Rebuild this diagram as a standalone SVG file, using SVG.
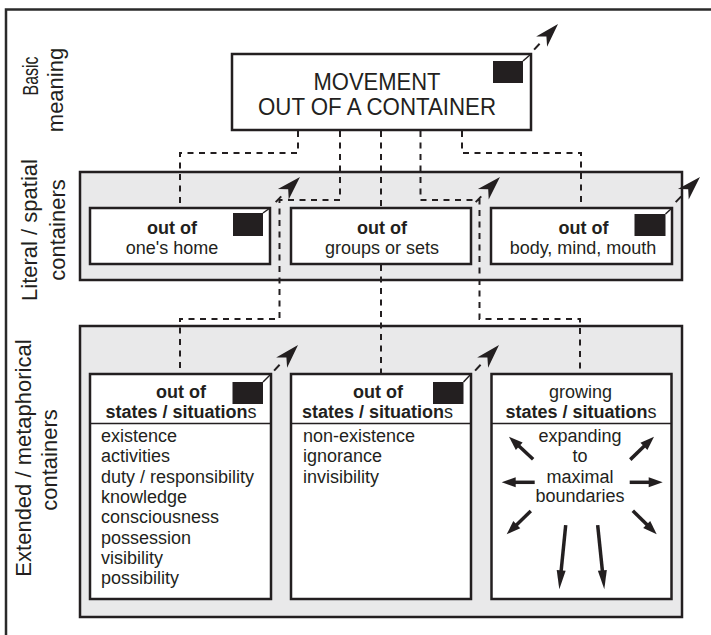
<svg xmlns="http://www.w3.org/2000/svg" xmlns:xlink="http://www.w3.org/1999/xlink" width="711" height="635" viewBox="0 0 711 635">
<style>
text{font-family:"Liberation Sans",Arial,sans-serif;fill:#231f20}
.lbl{font-size:22px;text-anchor:middle}
.t18{font-size:18px}
.mid{text-anchor:middle}
.b{font-weight:bold}
.n{font-weight:normal}
.frame{fill:none;stroke:#2a2a2a;stroke-width:2.5}
.panel{fill:#e9e9ea;stroke:#231f20;stroke-width:2.5}
.box{fill:#ffffff;stroke:#231f20;stroke-width:2.5}
.sq{fill:#231f20}
.diag{stroke:#231f20;stroke-width:1.5;fill:none}
.dash{fill:none;stroke:#231f20;stroke-width:2;stroke-dasharray:6 5.5}
.rad line{stroke:#231f20;stroke-width:3.5}
.rad polygon{fill:#231f20}
</style>
<defs>
<g id="out-arrow">
<line x1="-35" y1="0" x2="-27" y2="0" stroke="#231f20" stroke-width="2"/>
<polygon points="0,0 -24,-7.5 -17,0 -24,7.5" fill="#231f20"/>
</g>
</defs>
<rect class="frame" x="6" y="9.5" width="720" height="640"/>
<g id="row-labels">
<text class="lbl" transform="translate(37.5,76) rotate(-90)" textLength="39" lengthAdjust="spacingAndGlyphs">Basic</text>
<text class="lbl" transform="translate(63,90) rotate(-90)">meaning</text>
<text class="lbl" transform="translate(37,230) rotate(-90)">Literal / spatial</text>
<text class="lbl" transform="translate(65,230) rotate(-90)">containers</text>
<text class="lbl" transform="translate(30.5,458) rotate(-90)">Extended / metaphorical</text>
<text class="lbl" transform="translate(57,460) rotate(-90)">containers</text>
</g>
<rect id="panel-literal" class="panel" x="80" y="172" width="602" height="108"/>
<rect id="panel-extended" class="panel" x="80" y="326" width="602" height="291"/>
<g id="connectors">
<path class="dash" d="M298,131 V153 H180 V207"/>
<path class="dash" d="M340,131 V200 H279.5 V319 H180 V373"/>
<path class="dash" d="M381,131 V207"/>
<path class="dash" d="M381,265 V373"/>
<path class="dash" d="M420.5,131 V200 H479.5 V319 H580 V373"/>
<path class="dash" d="M462,131 V153 H581 V207"/>
</g>
<g id="node-movement">
<rect class="box" x="232" y="54" width="299" height="76"/>
<rect class="sq" x="493" y="61" width="30" height="22"/>
<line class="diag" x1="523" y1="61" x2="531" y2="54"/>
<use xlink:href="#out-arrow" transform="translate(558,24) rotate(-47)"/>
<text class="mid" x="377" y="90" font-size="24" textLength="127" lengthAdjust="spacingAndGlyphs">MOVEMENT</text>
<text class="mid" x="377" y="114.5" font-size="24" textLength="238" lengthAdjust="spacingAndGlyphs">OUT OF A CONTAINER</text>
</g>
<g id="node-home">
<rect class="box" x="90" y="208" width="180" height="56"/>
<rect class="sq" x="233" y="213" width="30" height="23"/>
<line class="diag" x1="263" y1="213" x2="270" y2="208"/>
<use xlink:href="#out-arrow" transform="translate(300,177) rotate(-46)"/>
<text class="t18 mid b" x="172" y="234">out of</text>
<text class="t18 mid" x="172" y="254">one's home</text>
</g>
<g id="node-groups">
<rect class="box" x="291" y="208" width="180" height="56"/>
<use xlink:href="#out-arrow" transform="translate(500,177) rotate(-46)"/>
<text class="t18 mid b" x="382" y="234">out of</text>
<text class="t18 mid" x="382" y="254">groups or sets</text>
</g>
<g id="node-body">
<rect class="box" x="491" y="208" width="181" height="56"/>
<rect class="sq" x="634.5" y="214" width="31" height="22"/>
<line class="diag" x1="665.5" y1="214" x2="672" y2="208"/>
<use xlink:href="#out-arrow" transform="translate(700,177) rotate(-46)"/>
<text class="t18 mid b" x="583.5" y="234">out of</text>
<text class="t18 mid" x="583" y="254">body, mind, mouth</text>
</g>
<g id="node-states-out">
<rect class="box" x="90" y="374" width="181" height="225"/>
<line class="diag" x1="90" y1="423.5" x2="271" y2="423.5" stroke-width="2.5"/>
<rect class="sq" x="232.5" y="382" width="30.5" height="22"/>
<line class="diag" x1="263" y1="382" x2="271" y2="374"/>
<use xlink:href="#out-arrow" transform="translate(298,345) rotate(-47)"/>
<text class="t18 mid b" x="181" y="398">out of</text>
<text class="t18 mid b" x="181" y="418">states / situation<tspan class="n">s</tspan></text>
<text class="t18" x="101" y="442">existence</text>
<text class="t18" x="101" y="462.3">activities</text>
<text class="t18" x="101" y="482.6">duty / responsibility</text>
<text class="t18" x="101" y="502.9">knowledge</text>
<text class="t18" x="101" y="523.2">consciousness</text>
<text class="t18" x="101" y="543.5">possession</text>
<text class="t18" x="101" y="563.8">visibility</text>
<text class="t18" x="101" y="584.1">possibility</text>
</g>
<g id="node-states-out-2">
<rect class="box" x="291" y="374" width="180" height="225"/>
<line class="diag" x1="291" y1="423.5" x2="471" y2="423.5" stroke-width="2.5"/>
<rect class="sq" x="433" y="382" width="30.5" height="22"/>
<line class="diag" x1="463.5" y1="382" x2="471" y2="374"/>
<use xlink:href="#out-arrow" transform="translate(499,345) rotate(-47)"/>
<text class="t18 mid b" x="378" y="398">out of</text>
<text class="t18 mid b" x="377.5" y="418">states / situation<tspan class="n">s</tspan></text>
<text class="t18" x="303" y="442">non-existence</text>
<text class="t18" x="303" y="462.3">ignorance</text>
<text class="t18" x="303" y="482.6">invisibility</text>
</g>
<g id="node-growing">
<rect class="box" x="491.5" y="374" width="180" height="225"/>
<line class="diag" x1="491.5" y1="423.5" x2="671.5" y2="423.5" stroke-width="2.5"/>
<text class="t18 mid" x="580.5" y="398">growing</text>
<text class="t18 mid b" x="581" y="418">states / situation<tspan class="n">s</tspan></text>
<text class="t18 mid" x="580" y="442">expanding</text>
<text class="t18 mid" x="580" y="462.3">to</text>
<text class="t18 mid" x="580" y="482.6">maximal</text>
<text class="t18 mid" x="580" y="502">boundaries</text>
<g class="rad">
<g transform="translate(509,436.7) rotate(-137)"><line x1="-33" y1="0" x2="-11" y2="0"/><polygon points="0,0 -14,-5 -14,5"/></g>
<g transform="translate(654,436.7) rotate(-44)"><line x1="-33" y1="0" x2="-11" y2="0"/><polygon points="0,0 -14,-5 -14,5"/></g>
<g transform="translate(501.7,482.3) rotate(180)"><line x1="-33" y1="0" x2="-11" y2="0"/><polygon points="0,0 -14,-5 -14,5"/></g>
<g transform="translate(662.7,482.3)"><line x1="-33" y1="0" x2="-11" y2="0"/><polygon points="0,0 -14,-5 -14,5"/></g>
<g transform="translate(506.7,534.3) rotate(136)"><line x1="-33.5" y1="0" x2="-11" y2="0"/><polygon points="0,0 -14,-5 -14,5"/></g>
<g transform="translate(656.7,534.3) rotate(44.5)"><line x1="-33.5" y1="0" x2="-11" y2="0"/><polygon points="0,0 -14,-5 -14,5"/></g>
<g transform="translate(559.3,589.3) rotate(95.7)"><line x1="-64.5" y1="0" x2="-16" y2="0"/><polygon points="0,0 -19,-4.5 -19,4.5"/></g>
<g transform="translate(604.3,589.3) rotate(84.1)"><line x1="-64.5" y1="0" x2="-16" y2="0"/><polygon points="0,0 -19,-4.5 -19,4.5"/></g>
</g>
</g>
</svg>
